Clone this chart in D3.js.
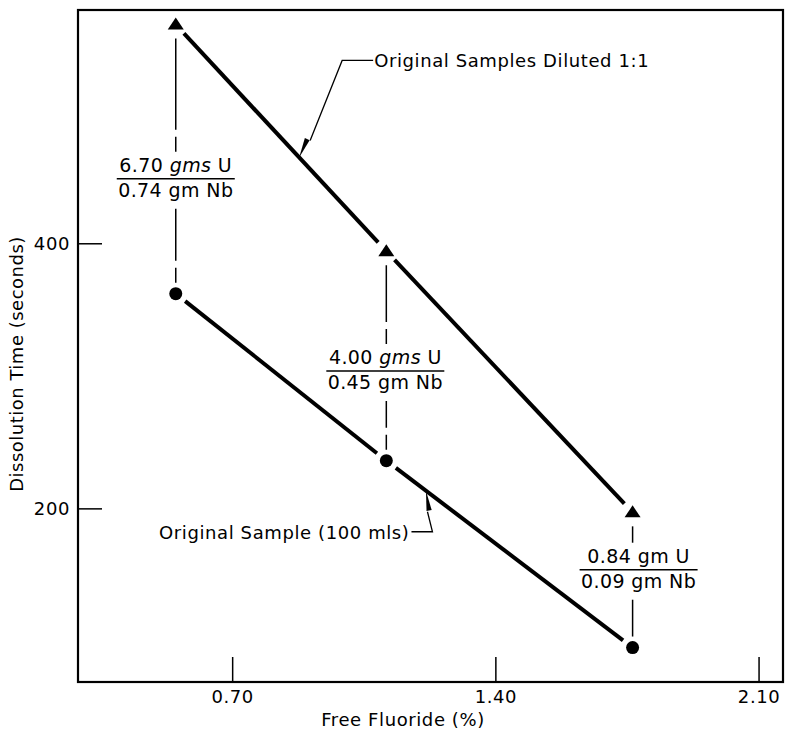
<!DOCTYPE html>
<html>
<head>
<meta charset="utf-8">
<script src="https://cdn.jsdelivr.net/npm/d3@7"></script>
<style>
  body { margin: 0; background: #fff; }
  svg { display: block; }
  text { font-family: "DejaVu Sans", sans-serif; fill: #000; }
</style>
</head>
<body>
<svg id="chart" width="788" height="734"></svg>
<script>
// ---- data ----
const fluoride = [0.55, 1.11, 1.765];          // free fluoride, %
const dilutedTime = [565, 394, 197];           // original samples diluted 1:1, seconds
const originalTime = [362, 236, 95];           // original sample (100 mls), seconds
const xTicks = [0.70, 1.40, 2.10];
const yTicks = [200, 400];
const uranium = ["6.70", "4.00", "0.84"];
const uraniumUnit = ["gms", "gms", "gm"];
const niobium = ["0.74", "0.45", "0.09"];
const dilutedName = "Original Samples Diluted 1:1";
const originalName = "Original Sample (100 mls)";

// ---- layout ----
const ratioLabelAt = [454, 309, 159];  // baseline of each ratio label, in seconds
const ratioShift = [0, -1, 6];         // horizontal nudge of each ratio label, px
const markerGap = 12;

const svg = d3.select("#chart");
const x = d3.scaleLinear().domain([0.29, 2.165]).range([78, 783]);
const y = d3.scaleLinear().domain([69, 576]).range([682, 10]);

// frame
svg.append("rect")
  .attr("x", x.range()[0]).attr("y", y.range()[1])
  .attr("width", x.range()[1] - x.range()[0])
  .attr("height", y.range()[0] - y.range()[1])
  .attr("fill", "none").attr("stroke", "#000").attr("stroke-width", 2.2);

// axes with inward ticks
const gx = svg.append("g")
  .attr("transform", `translate(0,${y.range()[0]})`)
  .call(d3.axisBottom(x).tickValues(xTicks).tickSize(-25).tickPadding(8).tickFormat(d3.format(".2f")));
const gy = svg.append("g")
  .attr("transform", `translate(${x.range()[0]},0)`)
  .call(d3.axisLeft(y).tickValues(yTicks).tickSize(-24).tickPadding(8).tickFormat(d3.format("d")));
[gx, gy].forEach(g => {
  g.select(".domain").remove();
  g.attr("font-size", 18).attr("font-family", null);
  g.selectAll(".tick line").attr("stroke", "#000").attr("stroke-width", 1.5);
  g.selectAll(".tick text").attr("fill", "#000").attr("letter-spacing", 0.6);
});

// axis titles
svg.append("text")
  .attr("x", 403).attr("y", 726)
  .attr("text-anchor", "middle").attr("font-size", 18).attr("letter-spacing", 0.6)
  .text("Free Fluoride (%)");
svg.append("text")
  .attr("transform", "translate(23,364) rotate(-90)")
  .attr("text-anchor", "middle").attr("font-size", 18).attr("letter-spacing", 0.5)
  .text("Dissolution Time (seconds)");

// series
const pts = vals => fluoride.map((f, i) => [x(f), y(vals[i])]);
const diluted = pts(dilutedTime);
const original = pts(originalTime);

function drawSeries(p) {
  for (let i = 0; i < p.length - 1; i++) {
    const [x0, y0] = p[i], [x1, y1] = p[i + 1];
    const len = Math.hypot(x1 - x0, y1 - y0);
    const ux = (x1 - x0) / len, uy = (y1 - y0) / len;
    svg.append("line")
      .attr("x1", x0 + ux * markerGap).attr("y1", y0 + uy * markerGap)
      .attr("x2", x1 - ux * markerGap).attr("y2", y1 - uy * markerGap)
      .attr("stroke", "#000").attr("stroke-width", 4);
  }
}
drawSeries(diluted);
drawSeries(original);

// dashed drop lines and ratio labels
fluoride.forEach((f, i) => {
  const cx = x(f);
  const base = y(ratioLabelAt[i]);
  const spans = [
    [diluted[i][1] + 14, base - 20],
    [base + 37, original[i][1] - 11]
  ];
  spans.forEach(([a, b]) => {
    const L = b - a;
    svg.append("line")
      .attr("x1", cx).attr("x2", cx).attr("y1", a).attr("y2", b)
      .attr("stroke", "#000").attr("stroke-width", 1.5)
      .attr("stroke-dasharray", L > 40 ? `${L - 22},7,15` : null);
  });
  const lx = cx + ratioShift[i];
  const top = svg.append("text")
    .attr("x", lx).attr("y", base)
    .attr("text-anchor", "middle").attr("font-size", 19).attr("letter-spacing", 0.4);
  top.append("tspan").text(uranium[i] + " ");
  top.append("tspan").attr("font-style", i < 2 ? "italic" : "normal").text(uraniumUnit[i]);
  top.append("tspan").text(" U");
  svg.append("line")
    .attr("x1", lx - 59).attr("x2", lx + 59).attr("y1", base + 7).attr("y2", base + 7)
    .attr("stroke", "#000").attr("stroke-width", 1.5);
  svg.append("text")
    .attr("x", lx).attr("y", base + 25)
    .attr("text-anchor", "middle").attr("font-size", 19).attr("letter-spacing", 0.4)
    .text(niobium[i] + " gm Nb");
});

// markers
svg.selectAll(".tri").data(diluted).join("path")
  .attr("class", "tri")
  .attr("transform", d => `translate(${d[0]},${d[1]})`)
  .attr("d", "M0,-7L8,5L-8,5Z")
  .attr("fill", "#000");
svg.selectAll(".dot").data(original).join("circle")
  .attr("class", "dot")
  .attr("cx", d => d[0]).attr("cy", d => d[1]).attr("r", 6.5)
  .attr("fill", "#000");

// leaders with arrowheads
function onSegment(p, i, t) {
  return [p[i][0] + (p[i + 1][0] - p[i][0]) * t, p[i][1] + (p[i + 1][1] - p[i][1]) * t];
}
function arrowHead(tip, from, len, half) {
  const dx = tip[0] - from[0], dy = tip[1] - from[1];
  const d = Math.hypot(dx, dy), ux = dx / d, uy = dy / d;
  const bx = tip[0] - ux * len, by = tip[1] - uy * len;
  svg.append("path")
    .attr("d", `M${tip[0]},${tip[1]}L${bx - uy * half},${by + ux * half}L${bx + uy * half},${by - ux * half}Z`)
    .attr("fill", "#000");
}
function leader(tip, offsets) {
  const path = [tip, ...offsets.map(([dx, dy]) => [tip[0] + dx, tip[1] + dy])];
  svg.append("path")
    .attr("d", d3.line()(path.slice(1)))
    .attr("fill", "none").attr("stroke", "#000").attr("stroke-width", 1.3);
  arrowHead(tip, path[2], 20, 2.6);
  return path[path.length - 1];
}

const tip1 = onSegment(diluted, 0, 0.586);
const end1 = leader(tip1, [[11, -17], [43, -97], [74, -97]]);
svg.append("text")
  .attr("x", end1[0] + 1).attr("y", end1[1] + 6.5)
  .attr("font-size", 18).attr("letter-spacing", 0.6)
  .text(dilutedName);

const tip2 = onSegment(original, 1, 0.161);
const end2 = leader(tip2, [[1.5, 21], [6.5, 41], [-14.5, 41]]);
svg.append("text")
  .attr("x", end2[0] - 2).attr("y", end2[1] + 7)
  .attr("text-anchor", "end").attr("font-size", 18).attr("letter-spacing", 0.6)
  .text(originalName);
</script>
</body>
</html>
